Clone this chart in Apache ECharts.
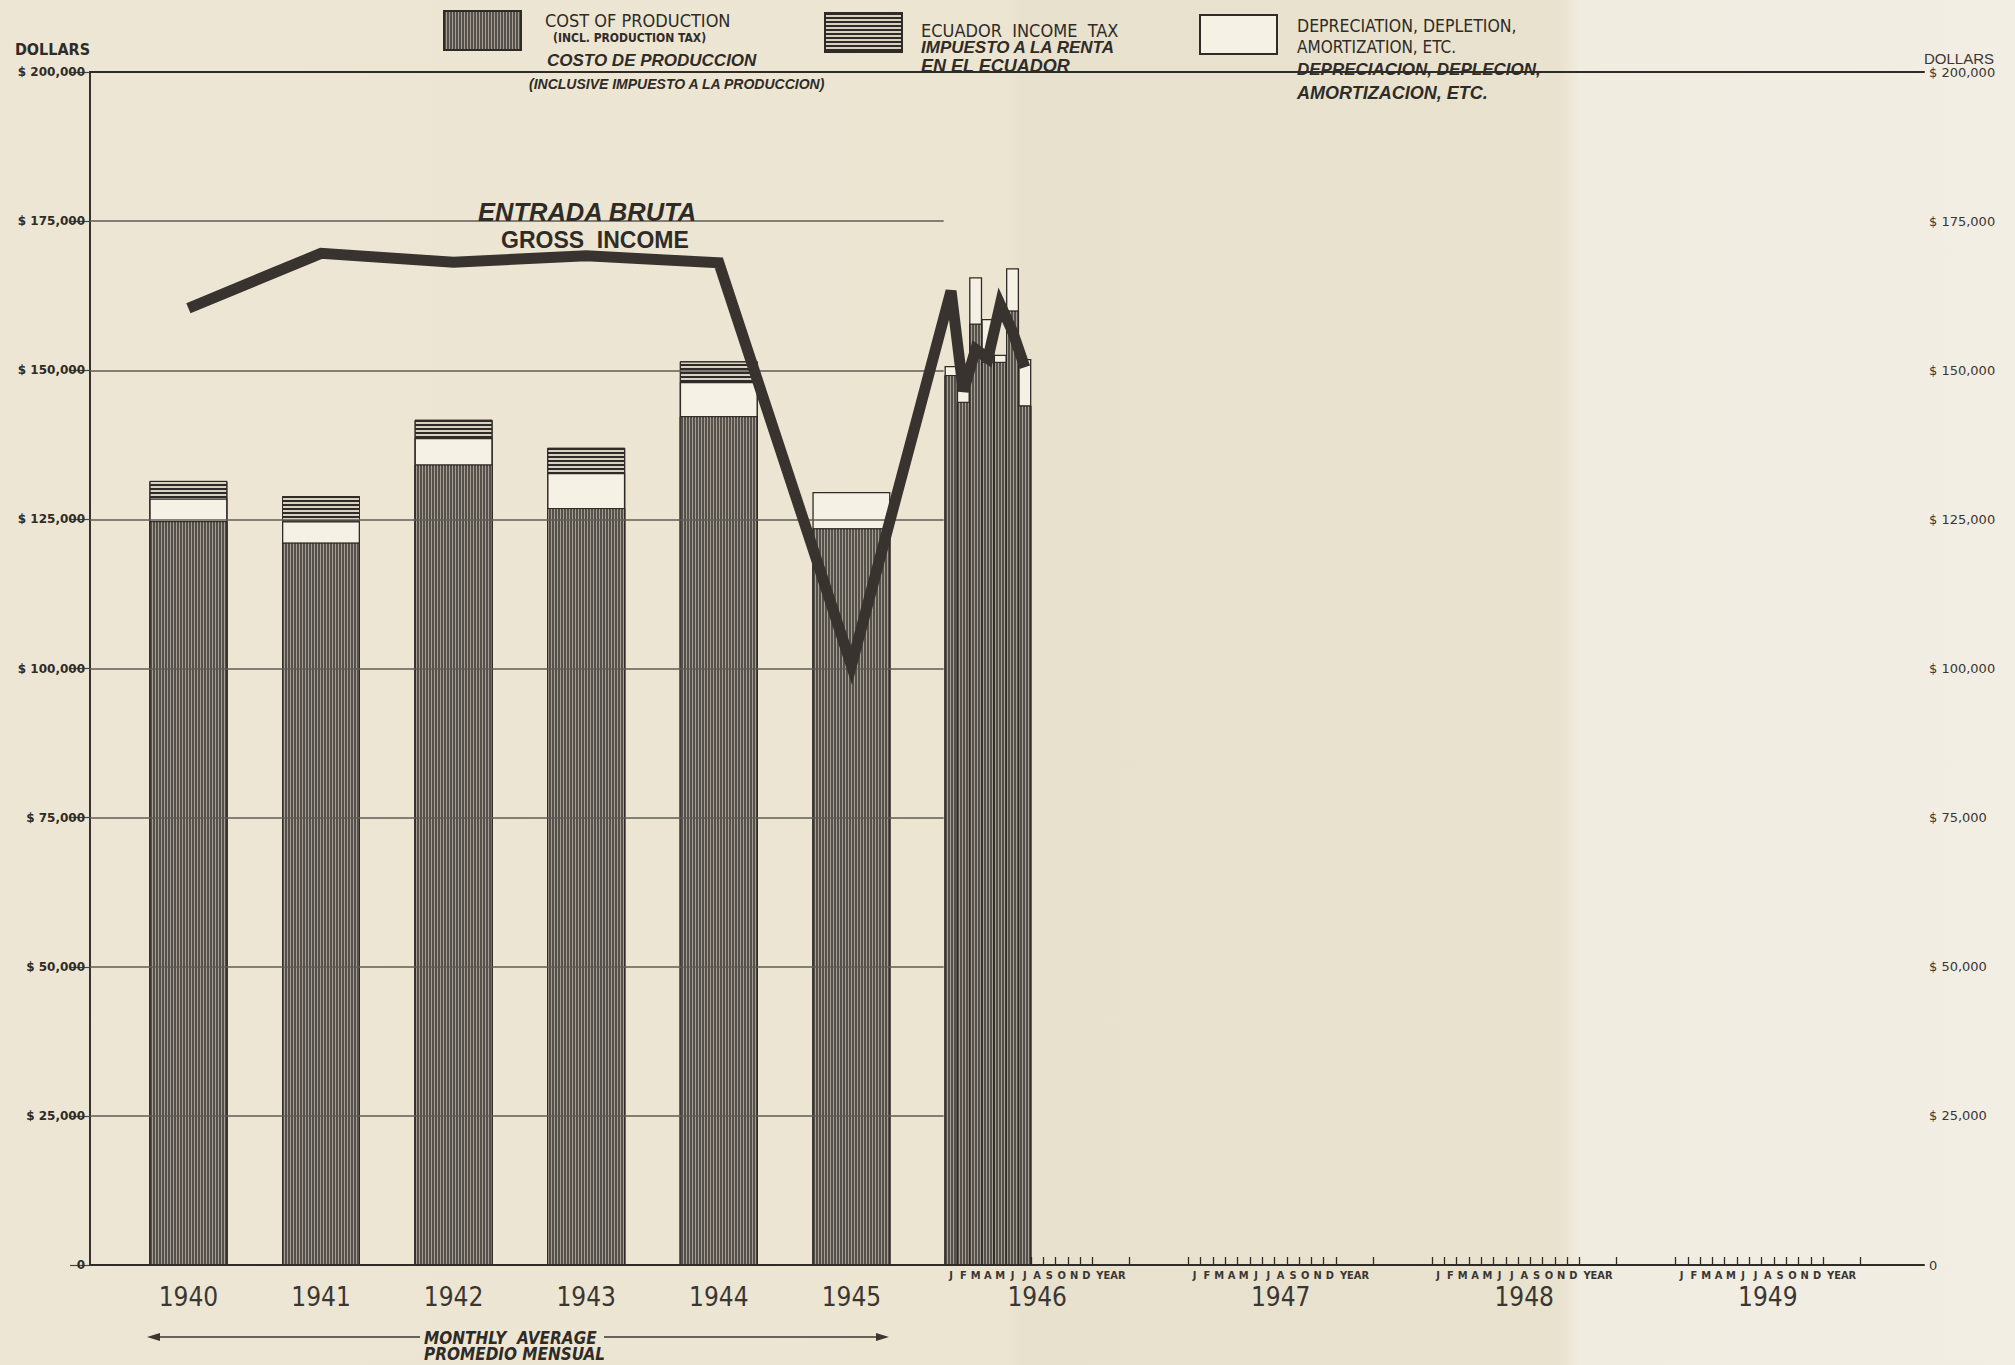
<!DOCTYPE html>
<html><head><meta charset="utf-8">
<script src="https://cdn.jsdelivr.net/npm/echarts@6/dist/echarts.min.js"></script>
<style>
html,body{margin:0;padding:0;}
body{width:2015px;height:1365px;overflow:hidden;background:linear-gradient(to right,#ede6d4 0px,#ece5d2 1008px,#e8e1cd 1020px,#e9e2ce 1560px,#f0ece0 1580px,#f2eee4 2015px);}
#chart{width:2015px;height:1365px;}
</style></head><body><div id="chart"></div>
<script>
// ---------------- DATA ----------------
const years = ['1940', '1941', '1942', '1943', '1944', '1945'];
const costAnnual = [124700, 121100, 134200, 126900, 142300, 123500];
const depAnnual  = [3800, 3600, 4450, 5900, 5750, 6100];
const taxAnnual  = [2950, 4200, 3050, 4200, 3450, 0];
const grossAnnual = [160400, 169600, 168100, 169200, 168000, 100500];

const futureYears = ['1946', '1947', '1948', '1949'];
const monthLetters = ['J', 'F', 'M', 'A', 'M', 'J', 'J', 'A', 'S', 'O', 'N', 'D'];
const yearWord = 'YEAR';
const cost1946  = [149200, 144700, 157800, 151400, 151400, 160000, 144100];
const dep1946   = [1500, 4500, 7800, 7200, 1200, 7100, 7800];
const gross1946 = [163300, 146500, 153500, 152000, 161000, 156500, 150500];

const yMax = 200000;
const yStep = 25000;

// ---------------- LAYOUT (not data) ----------------
const X_MAX = 149.1;
const A0 = 8.0, ASTEP = 10.78;
const M0 = 70, YB = 19.8;
const YEAR_LABEL_OFF = 13, YEAR_TICK_OFF = 14.5, YEAR_CENTER_OFF = 7;
const GRID_END = 69.4;
const ax = i => A0 + i * ASTEP;
const mx = (y, m) => M0 + y * YB + m;
const r3 = v => +(+v).toFixed(3);

const INK = '#2f2b27';
const FONT_N = "'Liberation Sans Narrow','DejaVu Sans Condensed',sans-serif";
const FONT_S = "'Liberation Sans','DejaVu Sans',sans-serif";

const costDecal = {symbol: 'rect', color: '#a59e92', dashArrayX: [1, 0], dashArrayY: [1, 2], rotation: Math.PI / 2};
const taxDecal  = {symbol: 'rect', color: '#2e2a27', dashArrayX: [1, 0], dashArrayY: [2, 1.6], rotation: 0};
const costStyle = {color: '#55504a', borderColor: INK, borderWidth: 1, decal: costDecal};
const taxStyle  = {color: '#d8d1bf', borderColor: INK, borderWidth: 1, decal: taxDecal};
const depStyle  = {color: '#f5f1e5', borderColor: INK, borderWidth: 1.3};

// month labels / ticks
const monthLabelMap = {};
const monthLabelVals = [];
const monthTickVals = [];
futureYears.forEach((y, yi) => {
  monthLetters.forEach((l, m) => {
    const v = r3(mx(yi, m)); monthLabelVals.push(v); monthLabelMap[v] = l;
  });
  const vy = r3(mx(yi, YEAR_LABEL_OFF)); monthLabelVals.push(vy); monthLabelMap[vy] = yearWord;
  for (let b = 0; b <= 12; b++) monthTickVals.push(r3(mx(yi, b - 0.5)));
  monthTickVals.push(r3(mx(yi, YEAR_TICK_OFF)));
});
const yearLabelMap = {};
const yearLabelVals = [];
years.forEach((y, i) => { const v = r3(ax(i)); yearLabelVals.push(v); yearLabelMap[v] = y; });
futureYears.forEach((y, yi) => { const v = r3(mx(yi, YEAR_CENTER_OFF)); yearLabelVals.push(v); yearLabelMap[v] = y; });

// cumulative tops (segments are drawn overlapping, tallest first)
const annualCostDep = costAnnual.map((c, i) => c + depAnnual[i]);
const annualTotal = annualCostDep.map((c, i) => (taxAnnual[i] ? c + taxAnnual[i] : null));
const month1946CostDep = cost1946.map((c, i) => c + dep1946[i]);

const annualData = arr => arr.map((v, i) => [ax(i), v == null ? '-' : v]);
const monthData = arr => arr.map((v, m) => [mx(0, m), v]);
const grossData = grossAnnual.map((v, i) => [ax(i), v]).concat(gross1946.map((v, m) => [mx(0, m), v]));

const gridVals = [];
for (let v = yStep; v < yMax; v += yStep) gridVals.push(v);

const dollar = v => (v === 0 ? '0' : '$ ' + v.toLocaleString('en-US'));

const hiddenX = () => ({type: 'value', min: 0, max: X_MAX, show: false});

const annualBar = (name, style, data) => ({name, type: 'bar', xAxisIndex: 2, yAxisIndex: 0, barWidth: 78, barGap: '-100%', z: 2, itemStyle: style, data});
const monthBar = (name, style, data) => ({name, type: 'bar', xAxisIndex: 3, yAxisIndex: 0, barWidth: 13, barGap: '-100%', z: 2, itemStyle: style, data});

const option = {
  animation: false,
  backgroundColor: 'transparent',
  grid: {left: 90, right: 91, top: 72, bottom: 100, show: false, containLabel: false, outerBoundsMode: 'none'},
  xAxis: [
    { type: 'value', min: 0, max: X_MAX, position: 'bottom',
      axisLine: {show: true, onZero: false, lineStyle: {color: INK, width: 2}},
      axisTick: {show: true, inside: true, length: 8, customValues: monthTickVals, lineStyle: {color: INK, width: 1.3}},
      axisLabel: {show: true, customValues: monthLabelVals, margin: 5, hideOverlap: false,
        formatter: v => monthLabelMap[r3(v)] || '',
        fontFamily: "'DejaVu Sans Condensed','DejaVu Sans',sans-serif", fontWeight: 'bold', fontSize: 11, color: '#3a3632'},
      splitLine: {show: false} },
    { type: 'value', min: 0, max: X_MAX, position: 'bottom',
      axisLine: {show: false, onZero: false}, axisTick: {show: false},
      axisLabel: {show: true, customValues: yearLabelVals, margin: 19, hideOverlap: false,
        formatter: v => yearLabelMap[r3(v)] || '',
        fontFamily: FONT_N, fontSize: 26, color: '#3a3632'},
      splitLine: {show: false} },
    hiddenX(),
    hiddenX(),
    { type: 'value', min: 0, max: X_MAX, position: 'top',
      axisLine: {show: true, onZero: false, lineStyle: {color: INK, width: 2}},
      axisTick: {show: false}, axisLabel: {show: false}, splitLine: {show: false} }
  ],
  yAxis: [
    { type: 'value', min: 0, max: yMax, interval: yStep, position: 'left',
      axisLine: {show: true, lineStyle: {color: INK, width: 2}},
      axisTick: {show: false},
      axisLabel: {show: true, margin: 5, formatter: dollar, fontFamily: "'DejaVu Sans',sans-serif", fontWeight: 'bold', fontSize: 12, color: INK},
      splitLine: {show: false} },
    { type: 'value', min: 0, max: yMax, interval: yStep, position: 'right',
      axisLine: {show: true, lineStyle: {color: '#3a3632', width: 1.5}},
      axisTick: {show: true, inside: true, length: 20, lineStyle: {color: '#4a4540', width: 1.2}},
      axisLabel: {show: true, margin: 5, formatter: dollar, fontFamily: "'DejaVu Sans',sans-serif", fontSize: 13, color: '#3a3632'},
      splitLine: {show: false} }
  ],
  legend: [
    {data: ['COST OF PRODUCTION'], left: 443, top: 10, padding: 0, itemWidth: 77, itemHeight: 39, icon: 'rect', selectedMode: false, formatter: () => '', textStyle: {fontSize: 1}},
    {data: ['ECUADOR INCOME TAX'], left: 824, top: 12, padding: 0, itemWidth: 77, itemHeight: 39, icon: 'rect', selectedMode: false, formatter: () => '', textStyle: {fontSize: 1}},
    {data: ['DEPRECIATION, DEPLETION, AMORTIZATION, ETC.'], left: 1199, top: 14, padding: 0, itemWidth: 77, itemHeight: 39, icon: 'rect', selectedMode: false, formatter: () => '', textStyle: {fontSize: 1}}
  ],
  series: [
    { name: 'grid', type: 'line', xAxisIndex: 0, yAxisIndex: 0, z: 1, data: [[0, 0]], symbol: 'none', lineStyle: {opacity: 0}, silent: true,
      markLine: {silent: true, symbol: ['none', 'none'], label: {show: false},
        lineStyle: {color: '#615b54', width: 1.5, type: 'solid'},
        data: gridVals.map(v => [{coord: [0, v]}, {coord: [GRID_END, v]}])} },
    annualBar('ECUADOR INCOME TAX', taxStyle, annualData(annualTotal)),
    annualBar('DEPRECIATION, DEPLETION, AMORTIZATION, ETC.', depStyle, annualData(annualCostDep)),
    annualBar('COST OF PRODUCTION', costStyle, annualData(costAnnual)),
    monthBar('DEPRECIATION, DEPLETION, AMORTIZATION, ETC.', depStyle, monthData(month1946CostDep)),
    monthBar('COST OF PRODUCTION', costStyle, monthData(cost1946)),
    { name: 'GROSS INCOME', type: 'line', xAxisIndex: 0, yAxisIndex: 0, z: 5, symbol: 'none', silent: true,
      lineStyle: {color: '#38332f', width: 11, join: 'miter', miterLimit: 10, cap: 'butt'},
      data: grossData }
  ],
  graphic: [
    // axis titles
    {type: 'text', right: 2015 - 90, top: 41, style: {text: 'DOLLARS', font: "bold 16px 'DejaVu Sans Condensed','DejaVu Sans',sans-serif", fill: INK}},
    {type: 'text', left: 1924, top: 51, style: {text: 'DOLLARS', font: "15px " + FONT_S, fill: '#3a3632'}},
    // legend texts
    {type: 'text', left: 545, top: 11.5, style: {text: 'COST OF PRODUCTION', font: "18px " + FONT_N, fill: INK}},
    {type: 'text', left: 553, top: 31.5, style: {text: '(INCL. PRODUCTION TAX)', font: "bold 12px " + FONT_N, fill: INK}},
    {type: 'text', left: 547, top: 52, style: {text: 'COSTO DE PRODUCCION', font: "italic bold 17px " + FONT_S, fill: INK}},
    {type: 'text', left: 529, top: 77, style: {text: '(INCLUSIVE IMPUESTO A LA PRODUCCION)', font: "italic bold 14px " + FONT_S, fill: INK}},
    {type: 'text', left: 921, top: 21.5, style: {text: 'ECUADOR  INCOME  TAX', font: "18px " + FONT_N, fill: INK}},
    {type: 'text', left: 921, top: 39, style: {text: 'IMPUESTO A LA RENTA', font: "italic bold 17px " + FONT_S, fill: INK}},
    {type: 'text', left: 921, top: 56.5, style: {text: 'EN EL ECUADOR', font: "italic bold 18px " + FONT_S, fill: INK}},
    {type: 'text', left: 1297, top: 17, style: {text: 'DEPRECIATION, DEPLETION,', font: "17.5px " + FONT_N, fill: INK}},
    {type: 'text', left: 1297, top: 38, style: {text: 'AMORTIZATION, ETC.', font: "17px " + FONT_N, fill: INK}},
    {type: 'text', left: 1297, top: 61, style: {text: 'DEPRECIACION, DEPLECION,', font: "italic bold 17px " + FONT_S, fill: INK}},
    {type: 'text', left: 1297, top: 83.5, style: {text: 'AMORTIZACION, ETC.', font: "italic bold 18px " + FONT_S, fill: INK}},
    // line labels
    {type: 'text', left: 478, top: 199, z: 10, style: {text: 'ENTRADA BRUTA', font: "italic bold 25.5px " + FONT_S, fill: INK}},
    {type: 'text', left: 501, top: 228, z: 10, style: {text: 'GROSS  INCOME', font: "bold 23px " + FONT_S, fill: INK}},
    // monthly average note
    {type: 'line', shape: {x1: 152, y1: 1337, x2: 420, y2: 1337}, style: {stroke: '#3a3632', lineWidth: 1.5}},
    {type: 'line', shape: {x1: 604, y1: 1337, x2: 884, y2: 1337}, style: {stroke: '#3a3632', lineWidth: 1.5}},
    {type: 'polygon', shape: {points: [[147, 1337], [160, 1333], [160, 1341]]}, style: {fill: '#3a3632'}},
    {type: 'polygon', shape: {points: [[889, 1337], [876, 1333], [876, 1341]]}, style: {fill: '#3a3632'}},
    {type: 'text', left: 424, top: 1329, style: {text: 'MONTHLY  AVERAGE', font: "italic bold 17px " + FONT_N, fill: INK}},
    {type: 'text', left: 424, top: 1345, style: {text: 'PROMEDIO MENSUAL', font: "italic bold 17px " + FONT_N, fill: INK}}
  ]
};

const chart = echarts.init(document.getElementById('chart'), null, {renderer: 'svg', width: 2015, height: 1365});
chart.setOption(option);
</script>
</body></html>
